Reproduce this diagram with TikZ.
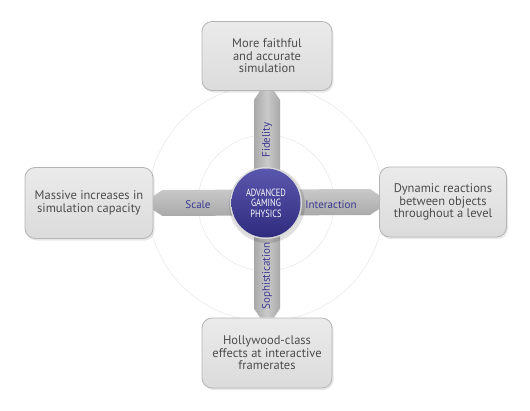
\documentclass[tikz,border=0pt]{standalone}
\usepackage{fontspec}
\setmainfont{PT Sans}
\usetikzlibrary{calc,shadows}
\definecolor{boxtext}{HTML}{4C4C4C}
\definecolor{boxedge}{HTML}{B4B4B4}
\definecolor{armlabel}{HTML}{3A3790}
\definecolor{armdark}{HTML}{A9A9A9}
\definecolor{armlight}{HTML}{C9C9C9}
\definecolor{ringgray}{HTML}{E9E9E9}
\definecolor{balltop}{HTML}{5A57AE}
\definecolor{ballbot}{HTML}{2F2C7E}
\tikzset{
  goalbox/.style={draw=boxedge, line width=0.8pt, rounded corners=10pt,
    minimum width=130pt, minimum height=69pt, align=center,
    font=\fontsize{12.5}{12.5}\selectfont, text=boxtext,
    top color=white!92!black, bottom color=white!86!black,
    drop shadow={opacity=0.18, shadow xshift=1.5pt, shadow yshift=-2pt}},
  armv/.style={left color=armdark, right color=armdark, middle color=armlight, draw=none},
  armh/.style={top color=armlight, bottom color=armdark, draw=none},
  armtext/.style={text=armlabel, font=\fontsize{11}{12}\selectfont},
  ring/.style={draw=ringgray, line width=0.6pt}
}
\begin{document}
\begin{tikzpicture}[x=1pt,y=-1pt]
\useasboundingbox (0,0) rectangle (530,410);
\coordinate (c) at (266,203);
% faint rings
\draw[ring] (c) circle[radius=68];
\draw[ring] (c) circle[radius=118];
% boxes
\node[goalbox] (top) at (267,56) {More faithful\\and accurate\\simulation};
\node[goalbox, minimum width=128pt, minimum height=71pt] (left) at (89,203) {Massive increases in\\simulation capacity};
\node[goalbox, minimum width=127pt, minimum height=70pt] (right) at (443,202) {Dynamic reactions\\between objects\\throughout a level};
\node[goalbox, minimum height=70pt] (bot) at (267,353) {Hollywood-class\\effects at interactive\\framerates};
% vertical arm
\path[armv] ($(top.south)+(-7,0)$) -- ($(top.south)+(7,0)$) -- ($(top.south)+(13,9)$)
  -- ($(bot.north)+(13,-9)$) -- ($(bot.north)+(7,0)$) -- ($(bot.north)+(-7,0)$)
  -- ($(bot.north)+(-13,-9)$) -- ($(top.south)+(-13,9)$) -- cycle;
% horizontal arm
\path[armh] ($(left.east)+(0,-7)$) -- ($(left.east)+(9,-13)$) -- ($(right.west)+(-9,-13)$)
  -- ($(right.west)+(0,-7)$) -- ($(right.west)+(0,7)$) -- ($(right.west)+(-9,13)$)
  -- ($(left.east)+(9,13)$) -- ($(left.east)+(0,7)$) -- cycle;
% arm labels
\node[armtext, rotate=90] (fid) at (267,140) {Fidelity};
\node[armtext, rotate=90] (soph) at (267,276) {Sophistication};
\node[armtext] (scale) at (198,205) {Scale};
\node[armtext] (inter) at (331,205) {Interaction};
% center ball
\fill[black, opacity=0.12] ($(c)+(1,2)$) circle[radius=38];
\fill[white!85!black] (c) circle[radius=36];
\shade[top color=balltop, bottom color=ballbot] (c) circle[radius=34.5];
\node[text=white, align=center, font=\fontsize{10.5}{10.5}\selectfont, xscale=0.8, transform shape] (core) at (c) {ADVANCED\\GAMING\\PHYSICS};
\end{tikzpicture}
\end{document}
